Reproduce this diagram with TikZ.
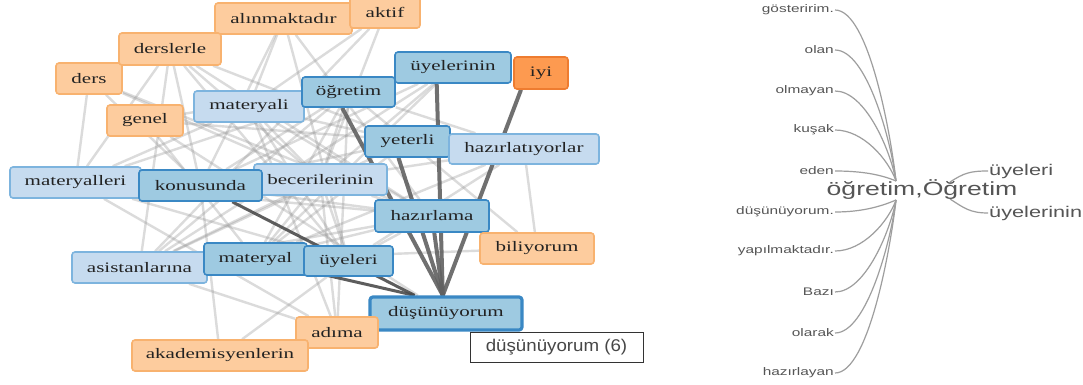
\documentclass[tikz,border=0pt]{standalone}
\usepackage{fontspec}
\newfontfamily\netfont[FakeStretch=1.45]{Liberation Serif}
\newfontfamily\treefont[FakeStretch=1.4]{Liberation Sans}
\newfontfamily\tipfont[FakeStretch=1.1]{Liberation Sans}
\pgfdeclarelayer{back}
\pgfdeclarelayer{bg}
\pgfsetlayers{back,bg,main}
\definecolor{orFill}{HTML}{FDCC9E}
\definecolor{orLine}{HTML}{F8B26F}
\definecolor{dorFill}{HTML}{FD9A50}
\definecolor{dorLine}{HTML}{EE7C30}
\definecolor{lbFill}{HTML}{C6DBEF}
\definecolor{lbLine}{HTML}{7DB4DE}
\definecolor{mbFill}{HTML}{9ECAE1}
\definecolor{mbLine}{HTML}{3A88C4}
\definecolor{txt}{HTML}{222222}
\definecolor{treetxt}{HTML}{555555}
\begin{document}
\begin{tikzpicture}[x=1pt,y=-1pt,
  nd/.style={rectangle, rounded corners=3pt, line width=1.6pt, minimum height=31pt,
    inner sep=0pt, text=txt, font=\netfont\fontsize{14.5}{16}\selectfont},
  orbox/.style={nd, fill=orFill, draw=orLine},
  dorbox/.style={nd, fill=dorFill, draw=dorLine},
  lbbox/.style={nd, fill=lbFill, draw=lbLine},
  mbbox/.style={nd, fill=mbFill, draw=mbLine},
  lt/.style={draw=black!40, line width=2.4pt, opacity=0.35},
  dk/.style={draw=black!62, line width=4pt, opacity=0.9},
  dk2/.style={draw=black!70, line width=3pt, opacity=0.9},
  tlab/.style={anchor=east, inner sep=1pt, text=treetxt, font=\treefont\fontsize{11}{12}\selectfont},
  tbig/.style={anchor=west, inner sep=1pt, text=treetxt, font=\treefont\fontsize{15.5}{16}\selectfont},
  tl/.style={draw=black!38, line width=1.2pt}
]
\useasboundingbox (0,0) rectangle (1083,385);
\begin{pgfonlayer}{back}
\fill[white] (0,0) rectangle (1083,385);
\end{pgfonlayer}

% ---- network nodes ----
\node[orbox, minimum width=137pt] (alin) at (283.5,18.5) {alınmaktadır};
\node[orbox, minimum width=70pt] (aktif) at (385,12.5) {aktif};
\node[orbox, minimum width=66pt] (ders) at (89,78.5) {ders};
\node[orbox, minimum width=102pt, minimum height=32pt] (derslerle) at (170,49) {derslerle};
\node[orbox, minimum width=76pt] (genel) at (145,120.5) {genel};
\node[lbbox, minimum width=110pt] (matyali) at (249,106.5) {materyali};
\node[mbbox, minimum width=93pt, minimum height=30pt] (ogr) at (348.5,92) {öğretim};
\node[mbbox, minimum width=116pt] (uyln) at (453,67.5) {üyelerinin};
\node[dorbox, minimum width=54pt, minimum height=32pt] (iyi) at (541,73) {iyi};
\node[mbbox, minimum width=85pt] (yet) at (407.5,141.5) {yeterli};
\node[lbbox, minimum width=150pt, minimum height=30pt] (hzt) at (524,149) {hazırlatıyorlar};
\node[lbbox, minimum width=131pt] (matleri) at (75.5,182.5) {materyalleri};
\node[lbbox, minimum width=133pt] (bec) at (320.5,179.5) {becerilerinin};
\node[mbbox, minimum width=123pt] (kon) at (200.5,185.5) {konusunda};
\node[mbbox, minimum width=114pt, minimum height=32pt] (hzr) at (432,216) {hazırlama};
\node[orbox, minimum width=114pt] (bil) at (537,248.5) {biliyorum};
\node[lbbox, minimum width=135pt] (asis) at (139.5,267.5) {asistanlarına};
\node[mbbox, minimum width=103pt, minimum height=32pt] (mat) at (255.5,259) {materyal};
\node[mbbox, minimum width=89pt, minimum height=30pt] (uyl) at (348.5,261) {üyeleri};
\node[mbbox, minimum width=152pt, minimum height=33pt, line width=3.2pt] (dus) at (446,313.5) {düşünüyorum};
\node[orbox, minimum width=82pt] (adima) at (337,332.5) {adıma};
\node[orbox, minimum width=176pt] (akad) at (220,355.5) {akademisyenlerin};
\node[rectangle, draw=black!80, line width=1pt, fill=white, minimum width=173pt,
  minimum height=30pt, inner sep=0pt, text=black!72,
  font=\tipfont\fontsize{17}{18}\selectfont] (tip) at (556.5,347) {düşünüyorum (6)};

% ---- network edges (behind nodes) ----
\begin{pgfonlayer}{bg}
\foreach \a/\b in {ders/matleri, ders/bec, ders/hzr, ders/kon,
  derslerle/matleri, derslerle/kon, derslerle/bec, derslerle/yet, derslerle/hzr,
  derslerle/asis, derslerle/uyl,
  alin/uyl, alin/kon, alin/hzr, alin/matyali,
  aktif/matyali, aktif/bec, aktif/asis,
  genel/hzt, genel/mat, genel/uyln, genel/dus,
  matyali/hzr, matyali/uyl, matyali/bec, matyali/matleri, matyali/adima,
  ogr/matleri, ogr/mat, ogr/asis, ogr/bec, ogr/hzt, ogr/kon,
  uyln/kon, uyln/matyali, uyln/bec, uyln/mat, uyln/asis,
  yet/kon, yet/matyali, yet/asis, yet/mat,
  hzt/bec, hzt/mat, hzt/bil, hzt/uyl,
  bil/mat, bil/bec, bil/ogr,
  kon/hzr, matleri/hzr, matleri/adima, matleri/uyl,
  asis/adima, asis/hzr, asis/bec,
  akad/kon, akad/uyl, adima/bec, adima/ogr,
  mat/bec, uyl/bec, uyl/hzr, mat/hzr}
  {\draw[lt] (\a) -- (\b);}
\draw[dk] (ogr.248) -- (dus.100);
\draw[dk] (uyln.225) -- (dus.100);
\draw[dk] (yet.241) -- (dus.100);
\draw[dk] (iyi.220) -- (dus.100);
\draw[dk] (hzr) -- (dus.100);
\draw[dk2] (kon) -- (dus.150);
\draw[dk2] (mat) -- (dus.150);
\end{pgfonlayer}

% ---- word tree ----
\coordinate (hubU) at (896,181);
\coordinate (hubL) at (896,200);
\coordinate (hubR1) at (950,182);
\coordinate (hubR2) at (950,199);

\node[tlab] (t1) at (835,10) {gösteririm.};
\node[tlab] (t2) at (835,50) {olan};
\node[tlab] (t3) at (835,91) {olmayan};
\node[tlab] (t4) at (835,130) {kuşak};
\node[tlab] (t5) at (835,171) {eden};
\node[tlab] (t6) at (835,212) {düşünüyorum.};
\node[tlab] (t7) at (835,251) {yapılmaktadır.};
\node[tlab] (t8) at (835,292) {Bazı};
\node[tlab] (t9) at (835,333) {olarak};
\node[tlab] (t10) at (835,373) {hazırlayan};

\draw[tl] (t1.east) .. controls +(34,0) and +(-5,-45) .. (hubU);
\draw[tl] (t2.east) .. controls +(32,0) and +(-5,-40) .. (hubU);
\draw[tl] (t3.east) .. controls +(30,0) and +(-6,-32) .. (hubU);
\draw[tl] (t4.east) .. controls +(28,0) and +(-8,-22) .. (hubU);
\draw[tl] (t5.east) .. controls +(28,0) and +(-14,-6) .. (hubU);
\draw[tl] (t6.east) .. controls +(28,0) and +(-14,6) .. (hubL);
\draw[tl] (t7.east) .. controls +(28,0) and +(-8,22) .. (hubL);
\draw[tl] (t8.east) .. controls +(30,0) and +(-6,32) .. (hubL);
\draw[tl] (t9.east) .. controls +(32,0) and +(-5,40) .. (hubL);
\draw[tl] (t10.east) .. controls +(34,0) and +(-5,45) .. (hubL);

\node[tbig] (w11) at (988,171) {üyeleri};
\node[tbig] (w12) at (988,213) {üyelerinin};
\draw[tl] (hubR1) .. controls +(14,-9) and +(-18,0) .. (w11.west);
\draw[tl] (hubR2) .. controls +(14,9) and +(-18,0) .. (w12.west);

\node[inner sep=0pt, text=treetxt, font=\treefont\fontsize{19}{20}\selectfont] (ctr) at (922,190) {öğretim,Öğretim};
\end{tikzpicture}
\end{document}
